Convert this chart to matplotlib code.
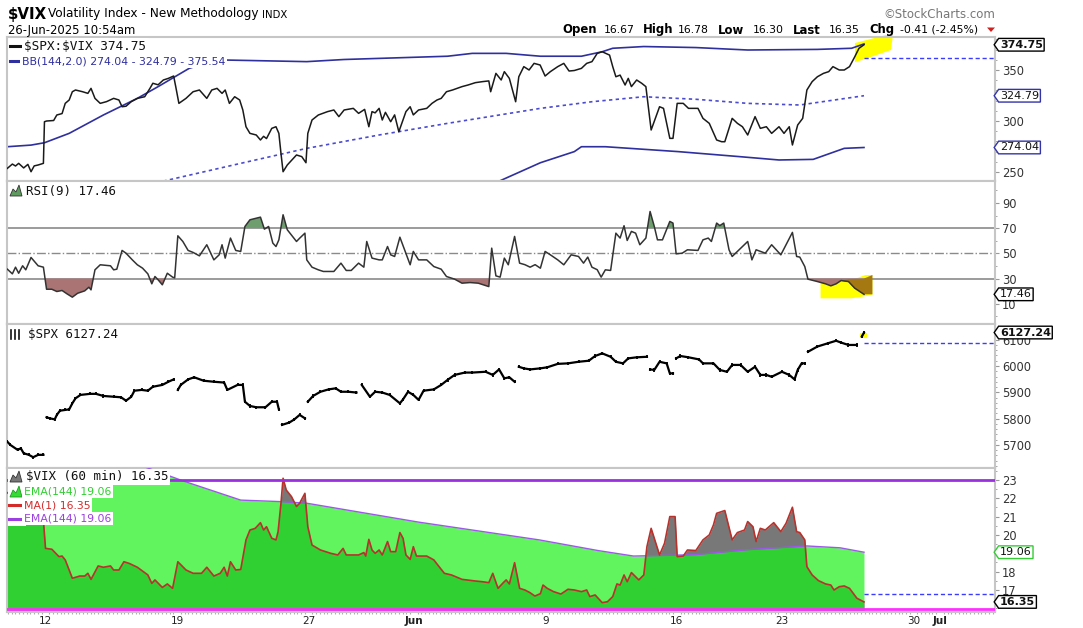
import numpy as np
import matplotlib.pyplot as plt
from matplotlib.patches import Polygon, Rectangle
from matplotlib.lines import Line2D
from matplotlib.path import Path
from matplotlib.ticker import MultipleLocator
from matplotlib.transforms import blended_transform_factory

plt.rcParams['font.family'] = ['DejaVu Sans']
MONO = 'DejaVu Sans Mono'

# x = trading-day index, 0 = Mon 12-May-2025 open (hourly bars, 7 per day)
day_ticks = [0, 5, 10, 14, 19, 24, 28, 33, 34]
day_labels = ['12', '19', '27', 'Jun', '9', '16', '23', '30', 'Jul']

# $SPX:$VIX ratio
ratio_x = [-1.45, -1.26, -1.14, -1.02, -0.83, -0.67, -0.55, -0.43, -0.28, -0.08,
           -0.04, 0.04, 0.31, 0.43, 0.63, 0.75, 0.90, 1.02, 1.14, 1.41,
           1.61, 1.73, 1.88, 2.08, 2.32, 2.59, 2.79, 2.91, 3.06, 3.26,
           3.49, 3.77, 3.97, 4.08, 4.28, 4.48, 4.67, 4.87, 4.95, 5.07,
           5.34, 5.61, 5.85, 6.13, 6.32, 6.52, 6.71, 6.83, 6.99, 7.19,
           7.38, 7.50, 7.62, 7.77, 8.01, 8.17, 8.29, 8.40, 8.60, 8.76,
           8.87, 8.95, 9.03, 9.19, 9.54, 9.74, 9.90, 9.97, 10.13, 10.37,
           10.72, 10.96, 11.15, 11.35, 11.70, 11.90, 12.13, 12.29, 12.41, 12.53,
           12.68, 12.80, 12.92, 13.12, 13.27, 13.43, 13.59, 13.70, 13.86, 13.98,
           14.18, 14.49, 14.69, 14.88, 15.04, 15.24, 15.47, 15.83, 16.06, 16.34,
           16.61, 16.85, 16.92, 17.12, 17.32, 17.44, 17.63, 17.87, 17.99, 18.18,
           18.38, 18.57, 18.80, 18.99, 19.19, 19.47, 19.70, 19.90, 20.10, 20.37,
           20.57, 20.77, 20.97, 21.16, 21.44, 21.56, 21.68, 21.84, 22.03, 22.15,
           22.27, 22.47, 22.66, 22.82, 23.02, 23.34, 23.49, 23.73, 23.85, 24.01,
           24.24, 24.44, 24.80, 24.99, 25.23, 25.51, 25.70, 25.82, 26.10, 26.30,
           26.49, 26.69, 26.97, 27.17, 27.40, 27.60, 27.88, 28.07, 28.27, 28.39,
           28.59, 28.78, 28.94, 29.14, 29.34, 29.57, 29.77, 29.93, 30.17, 30.36,
           30.56, 30.76, 30.92, 31.11]
ratio_y = [253.6, 257.8, 255.9, 258.5, 254.0, 257.5, 250.3, 256.0, 256.9, 258.5,
           299.3, 300.0, 300.5, 305.9, 307.3, 317.3, 320.6, 328.7, 330.4, 328.7,
           327.1, 332.0, 322.2, 317.3, 319.0, 322.2, 320.6, 314.0, 314.5, 319.0,
           322.2, 323.8, 332.0, 337.0, 335.5, 340.2, 341.8, 344.1, 333.7, 317.3,
           322.2, 328.7, 330.4, 322.2, 330.4, 332.0, 327.1, 330.4, 317.3, 323.8,
           320.6, 310.8, 294.4, 287.9, 286.3, 281.4, 285.0, 282.8, 292.8, 294.4,
           287.9, 268.3, 250.3, 256.9, 266.7, 265.1, 259.1, 287.9, 301.0, 305.9,
           309.2, 310.8, 304.3, 310.8, 312.4, 307.5, 311.4, 294.4, 309.2, 308.0,
           312.4, 301.0, 308.5, 299.3, 306.0, 289.5, 301.0, 309.2, 314.0, 306.0,
           310.8, 312.4, 317.3, 320.6, 322.2, 328.7, 330.4, 333.7, 335.3, 337.6,
           338.6, 339.3, 328.7, 346.7, 340.2, 348.4, 341.8, 318.9, 343.4, 353.3,
           350.0, 356.5, 354.9, 344.1, 348.4, 353.3, 356.5, 349.0, 349.5, 351.6,
           356.5, 358.2, 366.3, 367.9, 364.6, 353.3, 343.4, 345.0, 335.3, 341.8,
           333.7, 340.2, 337.0, 333.7, 291.2, 314.0, 312.4, 283.0, 283.0, 317.3,
           317.3, 312.4, 312.4, 302.6, 297.7, 281.4, 279.7, 279.7, 302.6, 297.7,
           294.4, 286.3, 304.3, 292.8, 294.4, 287.9, 294.4, 287.9, 294.4, 276.5,
           296.1, 302.6, 330.4, 338.6, 343.4, 346.7, 348.4, 353.3, 350.0, 350.0,
           353.3, 363.0, 371.3, 374.75]
ratio_prev = 361.5

# Bollinger bands (144, 2.0)
bbu_x = [-1.45, -0.55, -0.04, 0.90, 2.20, 3.49, 4.28, 5.46, 6.13, 6.79, 9.93, 11.35, 15.28,
         16.22, 17.51, 18.81, 20.37, 21.16, 21.56, 22.74, 24.72, 26.69, 29.34, 30.64, 31.11]
bbu_y = [274.8, 276.4, 278.7, 287.9, 305.9, 322.2, 333.7, 351.6, 357.0, 359.8, 358.2, 360.3, 363.5,
         366.3, 366.3, 363.5, 363.5, 367.9, 371.3, 373.0, 372.0, 369.6, 370.2, 371.3, 375.54]
bbm_x = [-1.45, 4.67, 7.42, 9.93, 12.68, 15.28, 18.81, 20.77, 22.74, 24.72, 26.69, 28.67, 31.11]
bbm_y = [206.0, 242.2, 258.5, 273.2, 286.3, 297.7, 312.4, 318.9, 323.8, 321.3, 317.3, 315.7, 324.79]
bbl_x = [-1.45, 9.93, 15.28, 17.24, 18.81, 20.10, 20.37, 21.28, 24.05, 26.42, 27.88, 29.18, 30.36, 31.11]
bbl_y = [137.0, 188.0, 232.0, 241.0, 259.1, 270.0, 274.8, 274.8, 270.0, 265.0, 261.8, 262.4, 273.2, 274.04]

# RSI(9)
rsi_x = [-1.45, -1.26, -1.14, -1.02, -0.87, -0.75, -0.67, -0.55, -0.28, -0.08,
         0.04, 0.24, 0.43, 0.63, 0.82, 1.02, 1.22, 1.49, 1.65, 1.73,
         1.88, 2.08, 2.47, 2.59, 2.71, 2.91, 3.06, 3.30, 3.49, 3.69,
         3.89, 4.04, 4.16, 4.28, 4.44, 4.63, 4.83, 4.91, 5.03, 5.22,
         5.42, 5.61, 5.85, 6.13, 6.40, 6.60, 6.71, 6.83, 7.03, 7.23,
         7.42, 7.58, 7.77, 8.17, 8.32, 8.48, 8.64, 8.76, 8.87, 9.03,
         9.19, 9.54, 9.66, 9.86, 9.93, 10.13, 10.37, 10.56, 10.96, 11.23,
         11.43, 11.62, 11.90, 12.10, 12.21, 12.41, 12.68, 12.80, 13.00, 13.12,
         13.27, 13.47, 13.67, 13.86, 13.98, 14.18, 14.49, 14.76, 15.04, 15.24,
         15.55, 15.83, 16.14, 16.45, 16.85, 16.96, 17.12, 17.28, 17.44, 17.59,
         17.83, 18.02, 18.22, 18.42, 18.61, 18.81, 18.99, 19.19, 19.47, 19.70,
         19.98, 20.26, 20.45, 20.61, 20.77, 20.97, 21.12, 21.28, 21.48, 21.68,
         21.84, 21.99, 22.11, 22.27, 22.43, 22.59, 22.82, 22.98, 23.14, 23.26,
         23.45, 23.73, 23.85, 23.97, 24.20, 24.40, 24.80, 24.99, 25.19, 25.31,
         25.51, 25.63, 25.78, 25.98, 26.10, 26.30, 26.69, 26.85, 27.01, 27.36,
         27.60, 27.95, 28.39, 28.55, 28.67, 28.86, 28.98, 29.34, 29.65, 29.85,
         30.05, 30.24, 30.52, 30.76, 31.11]
rsi_y = [37.4, 33.7, 39.0, 34.2, 40.1, 36.9, 40.9, 46.7, 40.1, 39.0,
         21.5, 21.5, 19.7, 20.5, 17.8, 15.2, 18.3, 20.2, 23.1, 21.0,
         36.9, 40.9, 40.1, 36.9, 37.4, 52.3, 50.1, 44.8, 40.9, 38.2,
         33.7, 25.8, 31.6, 29.0, 25.0, 34.2, 31.1, 30.5, 63.9, 59.4,
         52.3, 50.7, 48.0, 56.8, 44.8, 48.8, 56.8, 46.2, 62.1, 52.3,
         51.5, 71.3, 76.6, 78.7, 69.2, 71.3, 58.1, 55.4, 60.7, 80.6,
         68.7, 59.4, 62.0, 66.0, 44.8, 39.0, 36.9, 35.6, 35.6, 42.2,
         36.4, 36.4, 42.2, 39.0, 59.4, 46.2, 44.8, 44.8, 55.4, 48.8,
         47.5, 62.8, 51.5, 40.9, 51.5, 44.8, 44.8, 39.5, 37.4, 31.6,
         29.5, 26.3, 26.8, 26.3, 23.6, 54.1, 32.1, 31.1, 46.2, 40.9,
         63.4, 42.2, 41.0, 39.0, 41.0, 38.2, 51.5, 48.8, 44.8, 40.9,
         48.8, 47.5, 42.2, 47.0, 39.0, 37.0, 31.1, 36.9, 36.4, 66.0,
         62.1, 71.9, 60.2, 67.4, 66.0, 56.8, 62.1, 83.2, 71.3, 60.7,
         60.7, 75.3, 74.0, 49.6, 50.1, 52.8, 52.3, 60.7, 62.1, 59.4,
         74.0, 72.0, 74.0, 52.8, 47.5, 51.5, 59.4, 44.8, 52.8, 50.1,
         56.8, 48.8, 66.6, 47.5, 47.0, 39.5, 29.5, 27.6, 25.8, 24.2,
         25.8, 28.4, 27.6, 22.3, 17.46]

# $SPX hourly closes (nan = session gap)
nan = np.nan
spx_x = [-1.45, -1.34, -1.06, -0.94, -0.83, -0.63, -0.47, -0.28, -0.08, nan,
         0.04, 0.16, 0.35, 0.43, 0.55, 0.75, 0.90, 1.02, 1.14, 1.33,
         1.69, 1.92, 2.20, 2.59, 2.87, 3.06, 3.26, 3.38, 3.65, 3.89,
         4.08, 4.44, 4.67, 4.87, nan, 5.03, 5.14, 5.42, 5.65, 6.01,
         6.40, 6.79, 6.91, 7.30, 7.50, 7.58, 7.77, 8.01, 8.36, 8.60,
         8.80, 8.87, nan, 8.99, 9.27, 9.46, 9.66, 9.86, nan, 9.97,
         10.17, 10.45, 10.76, 11.03, 11.23, 11.51, 11.82, nan, 12.02, 12.33,
         12.53, 12.80, 13.08, 13.47, 13.59, 13.78, 13.98, 14.18, 14.37, 14.76,
         15.04, 15.28, 15.55, 15.94, 16.22, 16.73, 17.00, 17.24, 17.44, 17.63,
         17.83, nan, 17.99, 18.18, 18.42, 18.81, 19.07, 19.47, 19.86, 20.26,
         20.65, 20.89, 21.16, 21.48, 21.68, 21.95, 22.15, 22.47, 22.86, nan,
         22.98, 23.14, 23.34, 23.61, 23.73, 23.85, nan, 23.97, 24.13, 24.44,
         24.84, 24.99, 25.39, 25.63, 25.90, 26.10, 26.42, 26.69, 26.97, 27.17,
         27.40, 27.60, 27.99, 28.27, 28.47, 28.59, 28.74, 28.86, nan, 28.98,
         29.34, 29.73, 30.05, 30.24, 30.52, 30.84, nan, 31.03, 31.11]
spx_y = [5712, 5700, 5681, 5687, 5668, 5662, 5653, 5662, 5662, nan,
         5805, 5801, 5797, 5814, 5830, 5833, 5835, 5858, 5877, 5890,
         5894, 5894, 5886, 5883, 5881, 5868, 5883, 5906, 5909, 5906,
         5921, 5928, 5940, 5949, nan, 5909, 5928, 5949, 5957, 5944,
         5940, 5937, 5909, 5928, 5928, 5864, 5848, 5843, 5843, 5864,
         5864, 5835, nan, 5776, 5785, 5797, 5814, 5801, nan, 5864,
         5886, 5902, 5911, 5915, 5902, 5902, 5899, nan, 5928, 5883,
         5902, 5899, 5890, 5858, 5873, 5902, 5890, 5871, 5906, 5911,
         5928, 5947, 5966, 5975, 5975, 5978, 5966, 5987, 5953, 5957,
         5940, nan, 5997, 5991, 5987, 5991, 5995, 6008, 6010, 6016,
         6020, 6038, 6048, 6035, 6016, 6010, 6029, 6033, 6035, nan,
         5987, 5985, 6016, 6010, 5972, 5972, nan, 6029, 6038, 6033,
         6025, 6010, 6010, 5985, 5978, 6004, 6004, 5978, 5997, 5966,
         5966, 5959, 5978, 5966, 5949, 5985, 6010, 6010, nan, 6054,
         6074, 6086, 6096, 6089, 6080, 6080, nan, 6112, 6127.24]
spx_prev = 6088

# $VIX (60 min) and its EMA(144)
vix_x = [-1.45, -1.0, -0.5, -0.15, -0.08, 0.0, 0.24, 0.51, 0.63, 0.75,
         1.02, 1.30, 1.49, 1.61, 1.73, 2.00, 2.20, 2.47, 2.59, 2.79,
         2.98, 3.18, 3.49, 3.89, 4.04, 4.16, 4.44, 4.63, 4.83, 5.03,
         5.34, 5.61, 5.93, 6.13, 6.40, 6.64, 6.79, 6.91, 7.03, 7.23,
         7.42, 7.62, 7.77, 7.97, 8.17, 8.29, 8.40, 8.60, 8.76, 8.84,
         8.95, 9.03, 9.15, 9.35, 9.54, 9.66, 9.86, 9.97, 10.13, 10.45,
         10.84, 11.11, 11.31, 11.43, 11.90, 12.10, 12.17, 12.29, 12.41, 12.53,
         12.68, 12.80, 13.00, 13.12, 13.31, 13.47, 13.59, 13.70, 13.86, 13.98,
         14.10, 14.49, 14.76, 14.96, 15.16, 15.43, 15.83, 16.34, 16.61, 16.85,
         17.00, 17.20, 17.40, 17.51, 17.63, 17.83, 18.02, 18.22, 18.42, 18.60,
         18.81, 18.91, 19.07, 19.31, 19.59, 19.86, 20.10, 20.37, 20.57, 20.69,
         20.89, 21.16, 21.36, 21.56, 21.72, 21.84, 21.99, 22.11, 22.27, 22.55,
         22.74, 22.86, 23.02, 23.34, 23.53, 23.73, 23.93, 24.01, 24.24, 24.40,
         24.72, 24.99, 25.23, 25.39, 25.51, 25.70, 25.82, 26.10, 26.30, 26.57,
         26.69, 26.89, 27.01, 27.17, 27.36, 27.68, 27.95, 28.15, 28.39, 28.55,
         28.67, 28.86, 28.94, 29.14, 29.38, 29.65, 29.85, 29.97, 30.17, 30.36,
         30.56, 30.84, 31.11]
vix_y = [22.3, 21.9, 22.5, 22.0, 20.8, 19.27, 19.22, 18.82, 18.85, 18.64,
         17.64, 17.76, 17.76, 17.91, 17.58, 18.31, 18.24, 18.31, 18.09, 18.09,
         18.54, 18.45, 18.24, 17.82, 17.36, 17.55, 17.14, 17.33, 17.09, 18.54,
         18.09, 17.91, 17.91, 18.24, 17.76, 17.91, 18.24, 17.76, 18.54, 18.09,
         18.12, 19.73, 20.27, 20.36, 20.67, 20.27, 20.45, 19.82, 19.73, 20.18,
         21.73, 23.09, 22.45, 22.09, 21.55, 21.73, 22.27, 20.45, 19.45, 19.18,
         19.0, 18.91, 19.27, 18.91, 18.91, 19.04, 18.85, 19.76, 19.18, 19.0,
         19.18, 18.91, 19.64, 19.09, 19.09, 20.13, 19.82, 18.91, 18.67, 19.36,
         18.85, 18.85, 18.64, 18.27, 17.91, 17.82, 17.58, 17.49, 17.45, 17.40,
         17.91, 17.09, 17.40, 17.55, 17.33, 18.49, 17.09, 17.0, 16.85, 16.67,
         16.80, 17.27, 17.09, 16.91, 16.78, 17.04, 17.0, 16.91, 17.0, 16.64,
         16.73, 16.31, 16.36, 16.64, 17.33, 17.27, 17.82, 17.45, 17.95, 17.55,
         17.82, 19.36, 20.36, 18.91, 19.55, 21.0, 21.0, 18.82, 18.85, 19.18,
         19.15, 19.73, 20.0, 20.55, 21.18, 21.27, 21.33, 19.73, 20.13, 20.27,
         20.73, 20.45, 19.64, 20.36, 20.27, 20.67, 20.18, 20.64, 21.51, 20.18,
         20.13, 19.73, 18.27, 17.82, 17.51, 17.33, 17.27, 17.0, 17.18, 17.22,
         17.09, 16.55, 16.35]
ema_x = [-1.45, 1.2, 3.89, 5.22, 7.42, 8.9, 9.93, 14.18, 18.77, 19.0, 21.0, 22.35,
         24.01, 24.72, 26.69, 28.94, 30.2, 31.11]
ema_y = [26.3, 24.9, 23.65, 22.95, 21.9, 21.82, 21.73, 20.7, 19.73, 19.67, 19.15, 18.85,
         18.9, 18.93, 19.2, 19.4, 19.3, 19.06]
vix_prev = 16.76
vix_hline_top = 23.0
vix_hline_low = 15.96

quote = [('Open', '16.67'), ('High', '16.78'), ('Low', '16.30'), ('Last', '16.35'),
         ('Chg', '-0.41 (-2.45%)')]

W, H = 1083, 628
fig = plt.figure(figsize=(W / 100, H / 100), dpi=100)
fig.patch.set_facecolor('white')


def fx(px):
    return px / W


def fy(py):
    return 1 - py / H


x_lo, x_hi = -1.456, 36.09


def panel(top, bottom, ylim):
    ax = fig.add_axes([fx(7.2), fy(bottom), fx(995) - fx(7.2), (bottom - top) / H])
    ax.set_xlim(x_lo, x_hi)
    ax.set_ylim(*ylim)
    ax.yaxis.tick_right()
    ax.tick_params(axis='y', which='both', direction='out', color='#999999',
                   labelcolor='#333333', labelsize=8.3, pad=2)
    ax.tick_params(axis='y', which='major', length=3)
    ax.tick_params(axis='y', which='minor', length=1.5)
    ax.tick_params(axis='x', which='both', bottom=False, labelbottom=False)
    for s in ax.spines.values():
        s.set_color('#c6c6c6')
        s.set_linewidth(1.5)
    return ax


def tag_shape(x0, y0, width, height, mutation_size):
    pad = 0.12 * mutation_size
    x0, y0 = x0 - pad, y0 - pad
    x1, y1 = x0 + width + 2 * pad, y0 + height + 2 * pad
    tip = 0.35 * (y1 - y0)
    ym = 0.5 * (y0 + y1)
    return Path([(x0, y0), (x1, y0), (x1, y1), (x0, y1), (x0 - tip, ym), (x0, y0)], closed=True)


def tag(ax, y, text, edge='black', bold=False):
    tr = blended_transform_factory(ax.transAxes, ax.transData)
    ax.text(1.005, y, text, transform=tr, ha='left', va='center', fontsize=8,
            fontweight='bold' if bold else 'normal', color='#111111',
            bbox=dict(boxstyle=tag_shape, fc='white', ec=edge, lw=1.0),
            clip_on=False, zorder=20)


def legend_text(px, py, s, color='#111111', mono=True, size=9):
    fig.text(fx(px), fy(py), s, ha='left', va='center', color=color, fontsize=size,
             family=MONO if mono else 'DejaVu Sans', parse_math=False,
             bbox=dict(fc='white', ec='none', pad=1.2), zorder=3)


def fig_line(x0, x1, py, color, lw=2.2):
    fig.add_artist(Line2D([fx(x0), fx(x1)], [fy(py), fy(py)], transform=fig.transFigure,
                          color=color, lw=lw, zorder=2))


def fig_poly(pts, fc, ec='none', z=2):
    fig.add_artist(Polygon([(fx(a), fy(b)) for a, b in pts], closed=True,
                           transform=fig.transFigure, fc=fc, ec=ec, lw=0.6, zorder=z))


# ---- panel 1: ratio + Bollinger bands
ax1 = panel(37, 181, (241.2, 382.35))
ax1.add_patch(Polygon([(0.8582, 0.958), (0.8896, 1.014), (0.8967, 1.014), (0.8947, 0.91),
                       (0.8653, 0.84), (0.8582, 0.826)], closed=True, transform=ax1.transAxes,
                      fc='#ffff00', ec='none', clip_on=False, zorder=1))
ax1.plot(bbu_x, bbu_y, color='#2f2f9f', lw=1.2, zorder=2)
ax1.plot(bbl_x, bbl_y, color='#2f2f9f', lw=1.2, zorder=2)
ax1.plot(bbm_x, bbm_y, color='#4b4bcf', lw=1.2, ls=(0, (2, 2)), zorder=2)
ax1.plot(ratio_x, ratio_y, color='#1a1a1a', lw=1.1, zorder=3)
ax1.plot([ratio_x[-1], x_hi], [ratio_prev, ratio_prev], color='#3c3cff', lw=1, ls=(0, (3, 2)))
ax1.set_yticks([250, 300, 350])
ax1.yaxis.set_minor_locator(MultipleLocator(10))
tag(ax1, ratio_y[-1], '374.75', bold=True)
tag(ax1, bbm_y[-1], '324.79', edge='#3333aa')
tag(ax1, bbl_y[-1], '274.04', edge='#3333aa')

# ---- panel 2: RSI(9)
rx, ry = np.array(rsi_x), np.array(rsi_y)
ax2 = panel(181, 324, (-6.1, 107.4))
ax2.add_patch(Polygon([(0.8234, 0.3077), (0.8234, 0.1795), (0.8548, 0.1795), (0.8759, 0.2028),
                       (0.8759, 0.3427), (0.8689, 0.3427), (0.8548, 0.3077)], closed=True,
                      transform=ax2.transAxes, fc='#ffff00', ec='none', zorder=1))
ax2.axhline(70, color='#8a8a8a', lw=1.2, zorder=1.5)
ax2.axhline(30, color='#8a8a8a', lw=1.2, zorder=1.5)
ax2.axhline(50, color='#8a8a8a', lw=1.0, ls='-.', zorder=1.5)
ax2.fill_between(rx, ry, 70, where=ry >= 70, interpolate=True, color='#6e9e6e', lw=0, zorder=2)
ax2.fill_between(rx, ry, 30, where=ry <= 30, interpolate=True, color='#ab7474', lw=0, zorder=2)
ax2.fill_between(rx, ry, 30, where=(ry <= 30) & (rx >= 30.48), interpolate=True,
                 color='#a57812', lw=0, zorder=2.1)
ax2.add_patch(Polygon([(0.8674, 0.2076), (0.8674, 0.3177), (0.8759, 0.3427), (0.8759, 0.2076)],
                      closed=True, transform=ax2.transAxes, fc='#a57812', ec='none', zorder=2.1))
ax2.plot(rx, ry, color='#333333', lw=1.1, zorder=3)
ax2.set_yticks([10, 30, 50, 70, 90])
ax2.yaxis.set_minor_locator(MultipleLocator(10))
tag(ax2, rsi_y[-1], '17.46')

# ---- panel 3: $SPX
sx, sy = np.array(spx_x), np.array(spx_y)
ok = ~np.isnan(sy)
ax3 = panel(324, 468, (5612, 6159.7))
ax3.add_patch(Rectangle((30.96, 6105), 0.26, 22, fc='#ffff00', ec='none', zorder=2))
ax3.plot(sx, sy, color='black', lw=1.6, zorder=3)
ax3.vlines(sx[ok], sy[ok] - 6, sy[ok] + 6, color='black', lw=1.3, zorder=3)
ax3.plot([spx_x[-1], x_hi], [spx_prev, spx_prev], color='#3c3cff', lw=1, ls=(0, (3, 2)))
ax3.set_yticks([5700, 5800, 5900, 6000, 6100])
ax3.yaxis.set_minor_locator(MultipleLocator(20))
tag(ax3, spx_y[-1], '6127.24', bold=True)

# ---- panel 4: $VIX 60 min with EMA(144) area
vx, vy = np.array(vix_x), np.array(vix_y)
v_lo = 15.8
ax4 = panel(468, 612, (v_lo, 23.65))
ax4.fill_between(ema_x, ema_y, v_lo, color='#61f45f', lw=0, zorder=1)
ax4.fill_between(vx, vy, v_lo, color='#787878', lw=0, zorder=1.2)
dark = ax4.fill_between(ema_x, ema_y, v_lo, color='#30cf32', lw=0, zorder=1.4)
clip = Polygon(np.column_stack([np.r_[vx[0], vx, vx[-1]], np.r_[v_lo, vy, v_lo]]),
               closed=True, transform=ax4.transData)
dark.set_clip_path(clip)
ax4.plot(ema_x, ema_y, color='#9b59e6', lw=1.0, zorder=3)
ax4.plot(vx, vy, color='#b8322d', lw=1.2, zorder=4)
ax4.axhline(vix_hline_top, color='#9b30e0', lw=2, zorder=5)
ax4.axhline(vix_hline_low, color='#ff30ff', lw=2, zorder=5)
ax4.plot([vix_x[-1], x_hi], [vix_prev, vix_prev], color='#3c3cff', lw=1, ls=(0, (3, 2)), zorder=5)
ax4.set_yticks([17, 18, 20, 21, 22, 23])
ax4.yaxis.set_minor_locator(MultipleLocator(0.5))
tag(ax4, ema_y[-1], '19.06', edge='#33cc33')
tag(ax4, vix_y[-1], '16.35', bold=True)
ax4.set_xticks(day_ticks)
ax4.set_xticklabels(day_labels)
ax4.tick_params(axis='x', which='major', bottom=True, labelbottom=True, length=0, pad=3,
                labelsize=7.5, labelcolor='#222222')
ax4.xaxis.set_minor_locator(MultipleLocator(1 / 7))
ax4.tick_params(axis='x', which='minor', bottom=True, length=1.5, width=0.8, color='#b0b0b0')
for lab in ax4.get_xticklabels():
    if lab.get_text() in ('Jun', 'Jul'):
        lab.set_fontweight('bold')

# ---- legends inside panels
fig_line(10, 21, 46, '#111111')
legend_text(24, 46, '$SPX:$VIX 374.75', size=9.2)
fig_line(10, 21, 61, '#2f2f9f')
legend_text(21.5, 61, 'BB(144,2.0) 274.04 - 324.79 - 375.54', color='#2f2f9f', mono=False, size=7.8)

fig_poly([(10, 196), (13, 189), (16, 192), (19, 185), (22, 196)], '#5f9a5f', '#333333')
legend_text(26, 191, 'RSI(9) 17.46')

for bx in (11, 15, 19):
    fig.add_artist(Line2D([fx(bx), fx(bx)], [fy(330), fy(339)], transform=fig.transFigure,
                          color='#111111', lw=1.2, zorder=2))
legend_text(27.5, 334, '$SPX 6127.24')

fig.add_artist(Rectangle((fx(7.5), fy(526)), fx(18), (526 - 469) / H, transform=fig.transFigure,
                         fc='white', ec='none', zorder=1.5))
fig_poly([(10, 482), (13, 475), (16, 478), (19, 471), (22, 482)], '#777777', '#333333')
legend_text(26, 477, '$VIX (60 min) 16.35')
fig_poly([(10, 497), (13, 490), (16, 493), (19, 486), (22, 497)], '#33dd33', '#229922')
legend_text(24, 491.5, 'EMA(144) 19.06', color='#2fcf2f', mono=False, size=7.8)
fig_line(9, 21, 505, '#d42a2a')
legend_text(24, 505, 'MA(1) 16.35', color='#d42a2a', mono=False, size=7.8)
fig_line(9, 21, 518.5, '#9b3fe0')
legend_text(24, 518.5, 'EMA(144) 19.06', color='#9b3fe0', mono=False, size=7.8)

# ---- header
fig.text(fx(7.6), fy(14), '$VIX', fontsize=10.8, fontweight='bold', va='center', parse_math=False)
fig.text(fx(48), fy(14), 'Volatility Index - New Methodology', fontsize=8.7, va='center')
fig.text(fx(262), fy(14.5), 'INDX', fontsize=7.3, va='center')
fig.text(fx(7.6), fy(30.7), '26-Jun-2025 10:54am', fontsize=8.4, va='center')
fig.text(fx(995), fy(14), '\u00a9StockCharts.com', fontsize=8.5, ha='right', va='center',
         color='#777777')
label_px = [562.5, 643, 718, 793, 869]
value_px = [604, 678, 753, 829, 900]
for (lab, val), lx, vxp in zip(quote, label_px, value_px):
    fig.text(fx(lx), fy(30), lab, fontsize=8.4, fontweight='bold', va='center')
    fig.text(fx(vxp), fy(30), val, fontsize=7.8, va='center')
fig_poly([(987, 27.5), (995, 27.5), (991, 32)], '#cc2222', z=3)

fig.savefig('out.png', dpi=100)
